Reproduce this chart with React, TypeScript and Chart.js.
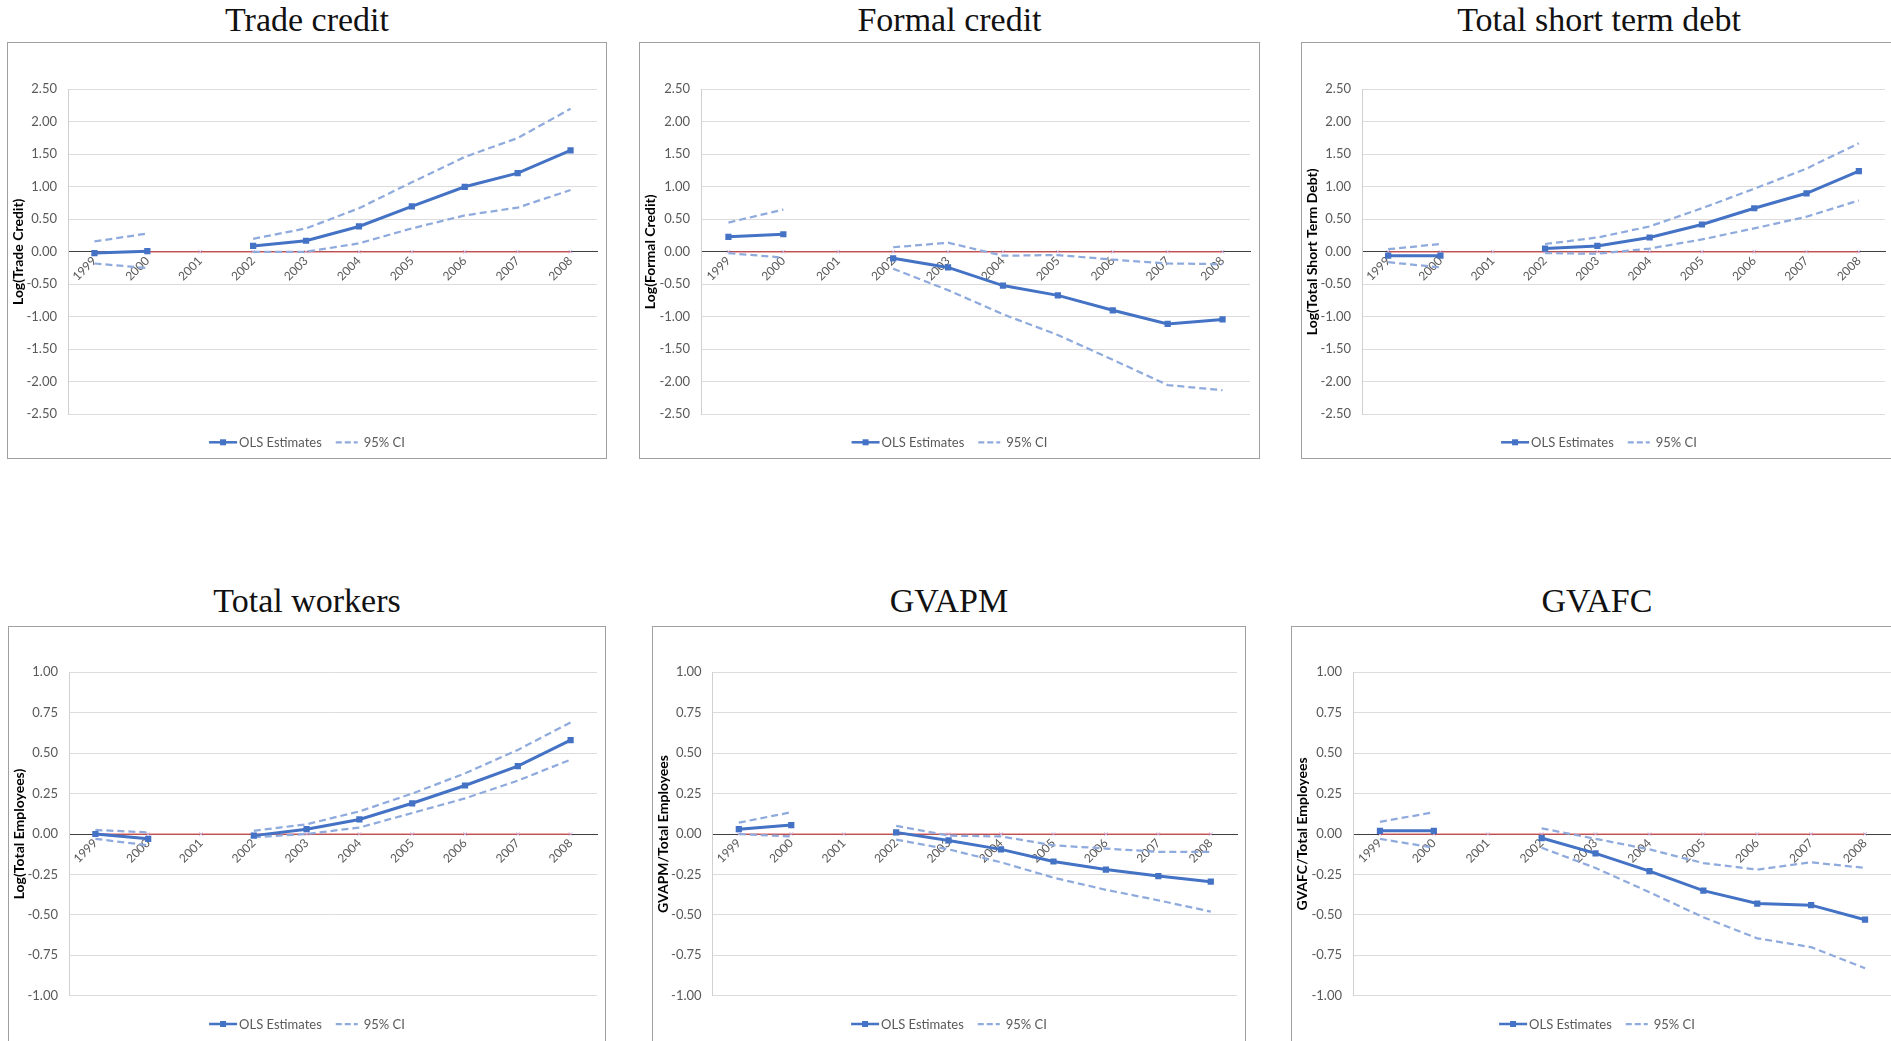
import React, { useEffect, useRef } from 'react';
import { Chart, registerables } from 'chart.js';

Chart.register(...registerables);

// ---------------- data ----------------
const years = ['1999', '2000', '2001', '2002', '2003', '2004', '2005', '2006', '2007', '2008'];
const zeroLine = [0, 0, 0, 0, 0, 0, 0, 0, 0, 0];
const legendLabels = ['OLS Estimates', '95% CI'];

const wideTicks = [2.5, 2.0, 1.5, 1.0, 0.5, 0, -0.5, -1.0, -1.5, -2.0, -2.5];
const narrowTicks = [1.0, 0.75, 0.5, 0.25, 0, -0.25, -0.5, -0.75, -1.0];

const tradeOls = [-0.02, 0.01, null, 0.09, 0.17, 0.39, 0.7, 1.0, 1.21, 1.56];
const tradeUpper = [0.16, 0.28, null, 0.2, 0.36, 0.67, 1.07, 1.46, 1.75, 2.2];
const tradeLower = [-0.18, -0.25, null, 0.0, 0.0, 0.13, 0.36, 0.56, 0.68, 0.95];

const formalOls = [0.23, 0.27, null, -0.1, -0.24, -0.52, -0.67, -0.9, -1.11, -1.04];
const formalUpper = [0.45, 0.65, null, 0.07, 0.14, -0.06, -0.05, -0.12, -0.18, -0.19];
const formalLower = [-0.02, -0.09, null, -0.26, -0.59, -0.96, -1.28, -1.66, -2.05, -2.13];

const debtOls = [-0.06, -0.06, null, 0.05, 0.09, 0.22, 0.42, 0.67, 0.9, 1.24];
const debtUpper = [0.04, 0.12, null, 0.12, 0.22, 0.39, 0.67, 0.97, 1.28, 1.67];
const debtLower = [-0.16, -0.24, null, -0.02, -0.03, 0.05, 0.19, 0.36, 0.54, 0.79];

const workersOls = [0.0, -0.03, null, -0.01, 0.03, 0.09, 0.19, 0.3, 0.42, 0.58];
const workersUpper = [0.025, 0.01, null, 0.02, 0.06, 0.14, 0.25, 0.375, 0.52, 0.69];
const workersLower = [-0.03, -0.07, null, -0.02, 0.0, 0.04, 0.13, 0.22, 0.33, 0.46];

const gvapmOls = [0.03, 0.055, null, 0.01, -0.04, -0.095, -0.17, -0.22, -0.26, -0.295];
const gvapmUpper = [0.07, 0.135, null, 0.05, -0.01, -0.015, -0.07, -0.09, -0.11, -0.11];
const gvapmLower = [0.0, -0.015, null, -0.035, -0.095, -0.175, -0.27, -0.345, -0.41, -0.48];

const gvafcOls = [0.02, 0.02, null, -0.025, -0.12, -0.23, -0.35, -0.43, -0.44, -0.53];
const gvafcUpper = [0.075, 0.135, null, 0.035, -0.03, -0.095, -0.18, -0.22, -0.175, -0.21];
const gvafcLower = [-0.03, -0.085, null, -0.085, -0.21, -0.36, -0.515, -0.645, -0.7, -0.83];

// ---------------- styles ----------------
const BLUE = '#4472C4';
const CI_BLUE = '#8FAADC';
const ZERO_RED = '#E05A5A';
const TICK_GRAY = '#595959';
const SANS = 'Lato';

type Rect = { x: number; y: number; w: number; h: number };
type PlotBox = { left: number; right: number; top: number; bottom: number };

interface PanelProps {
  title: string;
  yTitle: string;
  ols: (number | null)[];
  upper: (number | null)[];
  lower: (number | null)[];
  ticks: number[];
  frame: Rect;
  plot: PlotBox;
  legendY: number;
  titleBaseline: number;
}

function Panel(p: PanelProps) {
  const ref = useRef<HTMLCanvasElement | null>(null);

  useEffect(() => {
    const canvas = ref.current;
    if (!canvas) return;
    const { frame, plot } = p;
    const yWidth = plot.left - frame.x;
    const padTop = plot.top - frame.y;
    const padBottom = frame.y + frame.h - plot.bottom;
    const padRight = frame.x + frame.w - plot.right;
    const legendCY = p.legendY - frame.y;
    const tickMin = Math.min(...p.ticks);
    const tickMax = Math.max(...p.ticks);

    const legendPlugin = {
      id: 'excelLegend',
      afterDraw(chart: any) {
        const ctx = chart.ctx as CanvasRenderingContext2D;
        ctx.save();
        ctx.font = `13px ${SANS}`;
        const w1 = ctx.measureText(legendLabels[0]).width;
        const w2 = ctx.measureText(legendLabels[1]).width;
        const total = 28 + 2 + w1 + 14 + 22 + 6 + w2;
        let x = chart.width / 2 - total / 2;
        const y = legendCY;
        // OLS sample
        ctx.strokeStyle = BLUE;
        ctx.lineWidth = 2.5;
        ctx.setLineDash([]);
        ctx.beginPath();
        ctx.moveTo(x, y);
        ctx.lineTo(x + 28, y);
        ctx.stroke();
        ctx.fillStyle = BLUE;
        ctx.fillRect(x + 14 - 3, y - 3, 6, 6);
        x += 30;
        ctx.fillStyle = TICK_GRAY;
        ctx.textBaseline = 'middle';
        ctx.textAlign = 'left';
        ctx.fillText(legendLabels[0], x, y + 0.5);
        x += w1 + 14;
        // CI sample
        ctx.strokeStyle = CI_BLUE;
        ctx.lineWidth = 2.25;
        ctx.setLineDash([6, 3]);
        ctx.beginPath();
        ctx.moveTo(x, y);
        ctx.lineTo(x + 22, y);
        ctx.stroke();
        ctx.setLineDash([]);
        x += 28;
        ctx.fillText(legendLabels[1], x, y + 0.5);
        ctx.restore();
      },
    };

    const chart = new Chart(canvas, {
      type: 'line',
      data: {
        labels: years,
        datasets: [
          {
            label: legendLabels[0],
            data: p.ols,
            borderColor: BLUE,
            backgroundColor: BLUE,
            borderWidth: 3,
            pointStyle: 'rect',
            pointRadius: 4.4,
            pointBorderWidth: 0,
            pointBackgroundColor: BLUE,
            spanGaps: false,
            tension: 0,
          },
          {
            label: legendLabels[1],
            data: p.upper,
            borderColor: CI_BLUE,
            borderWidth: 2.25,
            borderDash: [7, 4],
            pointRadius: 0,
            spanGaps: false,
            tension: 0,
          },
          {
            label: legendLabels[1] + ' lower',
            data: p.lower,
            borderColor: CI_BLUE,
            borderWidth: 2.25,
            borderDash: [7, 4],
            pointRadius: 0,
            spanGaps: false,
            tension: 0,
          },
          {
            label: 'zero',
            data: zeroLine,
            borderColor: ZERO_RED,
            borderWidth: 1.25,
            pointStyle: 'crossRot',
            pointRadius: 2.3,
            pointBorderColor: '#C7A9D6',
            pointBorderWidth: 1,
            tension: 0,
          },
        ],
      },
      options: {
        animation: false,
        responsive: false,
        maintainAspectRatio: false,
        layout: { padding: { left: 0, top: padTop, right: padRight, bottom: padBottom } },
        plugins: {
          legend: { display: false },
          tooltip: { enabled: false },
          title: { display: false },
        },
        scales: {
          x: {
            type: 'category',
            offset: true,
            position: { y: 0 } as any,
            grid: { display: false, drawTicks: false },
            border: { display: true, color: '#404040', width: 1 },
            ticks: {
              autoSkip: false,
              maxRotation: 45,
              minRotation: 45,
              padding: 2,
              color: TICK_GRAY,
              font: { family: SANS, size: 12 },
            },
          },
          y: {
            type: 'linear',
            position: 'left',
            min: tickMin,
            max: tickMax,
            afterBuildTicks: (s: any) => {
              s.ticks = p.ticks.map((v) => ({ value: v }));
            },
            afterFit: (s: any) => {
              s.width = yWidth;
            },
            grid: { color: '#DCDCDC', lineWidth: 1, drawTicks: false },
            border: { display: true, color: '#D0D0D0', width: 1 },
            ticks: {
              padding: 11,
              color: TICK_GRAY,
              font: { family: SANS, size: 13 },
              callback: (v: any) => Number(v).toFixed(2),
            },
            title: {
              display: true,
              text: p.yTitle,
              color: '#000000',
              font: { family: SANS, size: 14, weight: 'bold' },
              padding: { top: 3, bottom: 0 },
            },
          },
        },
      } as any,
      plugins: [legendPlugin],
    });
    return () => chart.destroy();
  }, []);

  const { frame } = p;
  const fontSize = 34;
  const lineH = 40;
  const baselineOffset = (lineH - (0.891 + 0.216) * fontSize) / 2 + 0.891 * fontSize;
  return (
    <>
      <div
        style={{
          position: 'absolute',
          left: frame.x,
          width: frame.w,
          top: p.titleBaseline - baselineOffset,
          height: lineH,
          lineHeight: `${lineH}px`,
          fontFamily: '"Liberation Serif", serif',
          fontSize,
          color: '#111',
          textAlign: 'center',
          whiteSpace: 'nowrap',
        }}
      >
        {p.title}
      </div>
      <div
        style={{
          position: 'absolute',
          left: frame.x,
          top: frame.y,
          width: frame.w,
          height: frame.h,
          boxSizing: 'border-box',
          border: '1px solid #A0A0A0',
          background: '#fff',
        }}
      />
      <canvas
        ref={ref}
        width={frame.w}
        height={frame.h}
        style={{ position: 'absolute', left: frame.x, top: frame.y, width: frame.w, height: frame.h }}
      />
    </>
  );
}

export default function App() {
  const topPlot = { top: 89.3, bottom: 414.3 };
  const botPlot = { top: 672.3, bottom: 995.7 };
  return (
    <div
      style={{
        position: 'absolute',
        left: 0,
        top: 0,
        width: 1891,
        height: 1041,
        overflow: 'hidden',
        background: '#fff',
      }}
    >
      <Panel
        title="Trade credit"
        yTitle="Log(Trade Credit)"
        ols={tradeOls}
        upper={tradeUpper}
        lower={tradeLower}
        ticks={wideTicks}
        frame={{ x: 7, y: 42, w: 600, h: 417 }}
        plot={{ left: 68, right: 597, ...topPlot }}
        legendY={442.3}
        titleBaseline={31.7}
      />
      <Panel
        title="Formal credit"
        yTitle="Log(Formal Credit)"
        ols={formalOls}
        upper={formalUpper}
        lower={formalLower}
        ticks={wideTicks}
        frame={{ x: 639, y: 42, w: 621, h: 417 }}
        plot={{ left: 701, right: 1250, ...topPlot }}
        legendY={442.3}
        titleBaseline={31.7}
      />
      <Panel
        title="Total short term debt"
        yTitle="Log(Total Short Term Debt)"
        ols={debtOls}
        upper={debtUpper}
        lower={debtLower}
        ticks={wideTicks}
        frame={{ x: 1301, y: 42, w: 596, h: 417 }}
        plot={{ left: 1362, right: 1885, ...topPlot }}
        legendY={442.3}
        titleBaseline={31.7}
      />
      <Panel
        title="Total workers"
        yTitle="Log(Total Employees)"
        ols={workersOls}
        upper={workersUpper}
        lower={workersLower}
        ticks={narrowTicks}
        frame={{ x: 8, y: 626, w: 598, h: 430 }}
        plot={{ left: 69, right: 597, ...botPlot }}
        legendY={1024}
        titleBaseline={612.7}
      />
      <Panel
        title="GVAPM"
        yTitle="GVAPM/Total Employees"
        ols={gvapmOls}
        upper={gvapmUpper}
        lower={gvapmLower}
        ticks={narrowTicks}
        frame={{ x: 652, y: 626, w: 594, h: 430 }}
        plot={{ left: 712.6, right: 1237, ...botPlot }}
        legendY={1024}
        titleBaseline={612.7}
      />
      <Panel
        title="GVAFC"
        yTitle="GVAFC/Total Employees"
        ols={gvafcOls}
        upper={gvafcUpper}
        lower={gvafcLower}
        ticks={narrowTicks}
        frame={{ x: 1291, y: 626, w: 612, h: 430 }}
        plot={{ left: 1353, right: 1892, ...botPlot }}
        legendY={1024}
        titleBaseline={612.7}
      />
    </div>
  );
}
